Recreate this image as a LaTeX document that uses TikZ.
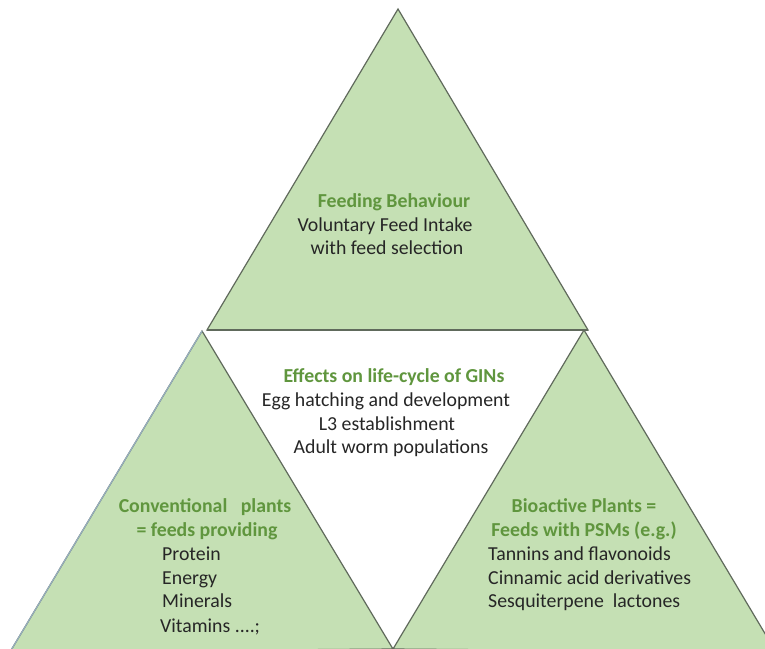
\documentclass[tikz,border=0pt]{standalone}
\usepackage{fontspec}
\setmainfont{Carlito}
\usepackage{tikz}

\definecolor{leaf}{RGB}{197,224,180}
\definecolor{edge}{RGB}{96,106,92}
\definecolor{pale}{RGB}{150,175,190}
\definecolor{head}{RGB}{96,150,62}
\definecolor{ink}{RGB}{38,38,38}

\tikzset{
  tri/.style={fill=leaf, draw=edge, line width=1.2pt, line join=miter},
  title/.style={inner sep=0pt, text=head, font=\fontsize{19.8}{24}\selectfont\bfseries},
  line/.style={inner sep=0pt, text=ink, font=\fontsize{19.8}{24}\selectfont}
}

\begin{document}
\begin{tikzpicture}[x=1pt,y=-1pt]
\useasboundingbox (0,0) rectangle (765,648);
\clip (0,0) rectangle (765,648);
\fill[white] (0,0) rectangle (765,648);
% Corners
\coordinate (T) at (398,9);
\coordinate (L) at (202,331);
\coordinate (R) at (584,330);
\coordinate (M) at (393,649);
% Triangles
\draw[tri] (T) -- (588,330) -- (207,330) -- cycle;
\draw[edge, line width=2pt] (207,330) -- (588,330);
\draw[tri] (L) -- (M) -- (10,652) -- cycle;
\draw[pale, line width=1.2pt] (L) -- (10,652);
\draw[tri] (R) -- (776,652) -- (M) -- cycle;
% Feeding behaviour (top)
\node[title, anchor=base] (fb1) at (394,207) {Feeding Behaviour};
\node[line, anchor=base] (fb2) at (385,231) {Voluntary Feed Intake};
\node[line, anchor=base] (fb3) at (387,254) {with feed selection};
% Life-cycle of GINs (centre)
\node[title, anchor=base] (gn1) at (394,382) {Effects on life-cycle of GINs};
\node[line, anchor=base] (gn2) at (386,406) {Egg hatching and development};
\node[line, anchor=base] (gn3) at (387,430) {L3 establishment};
\node[line, anchor=base] (gn4) at (391,453) {Adult worm populations};
% Conventional plants (left)
\node[title, anchor=base] (cp1) at (205,512) {Conventional\ \ \ plants};
\node[title, anchor=base] (cp2) at (207,536) {= feeds providing};
\node[line, anchor=base west] (cp3) at (162,560) {Protein};
\node[line, anchor=base west] (cp4) at (162,584) {Energy};
\node[line, anchor=base west] (cp5) at (162,607) {Minerals};
\node[line, anchor=base west] (cp6) at (160,632) {Vitamins ....;};
% Bioactive plants (right)
\node[title, anchor=base] (bp1) at (584,512) {Bioactive Plants =};
\node[title, anchor=base] (bp2) at (584,536) {Feeds with PSMs (e.g.)};
\node[line, anchor=base west] (bp3) at (488,560) {Tannins and flavonoids};
\node[line, anchor=base west] (bp4) at (488,584) {Cinnamic acid derivatives};
\node[line, anchor=base west] (bp5) at (488,607) {Sesquiterpene\ \ lactones};
\end{tikzpicture}
\end{document}
